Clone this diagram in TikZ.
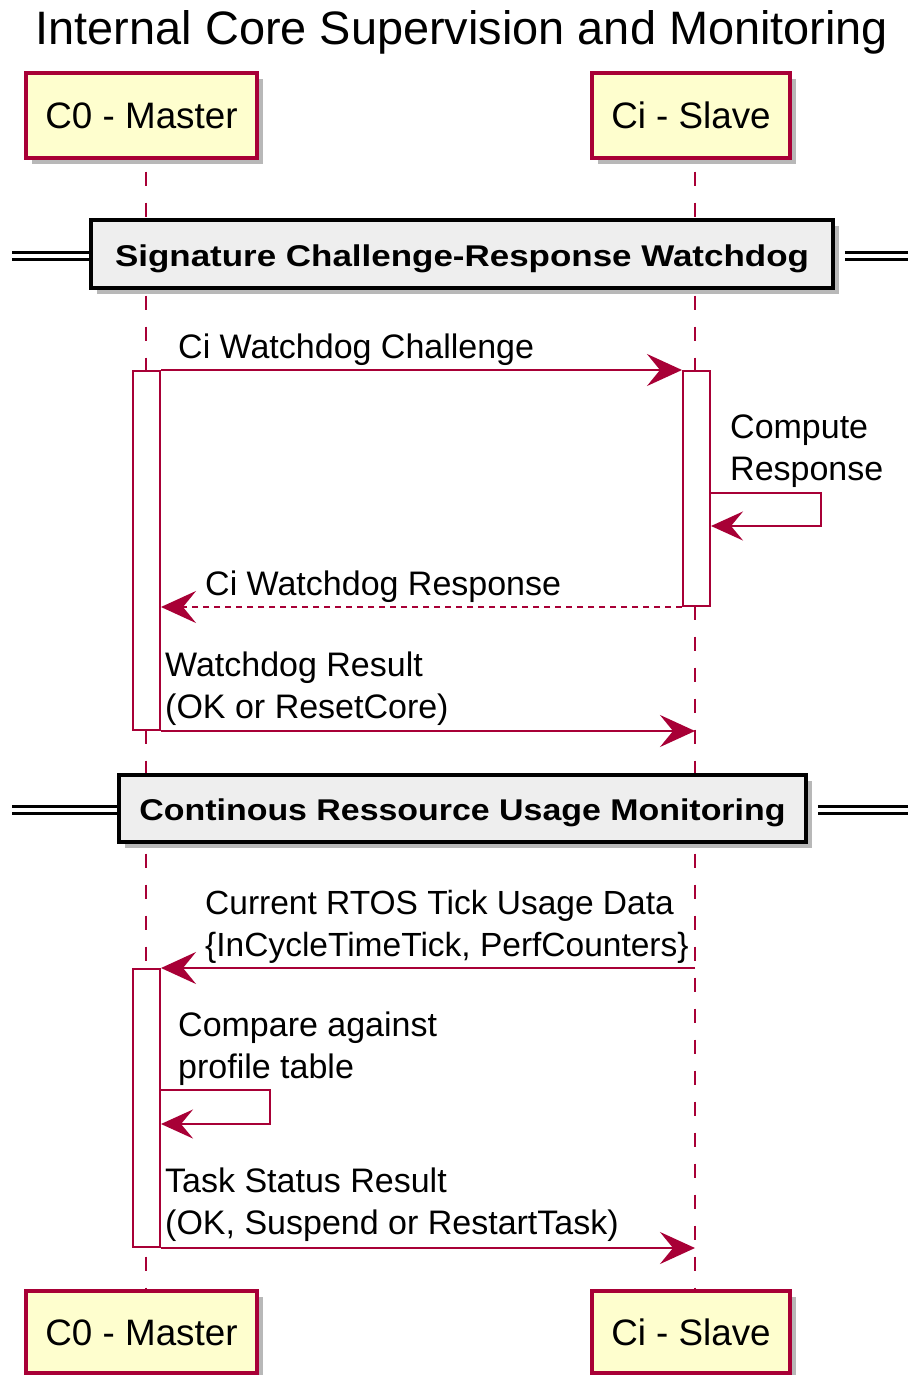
\documentclass[tikz,border=0pt]{standalone}
\usepackage{fontspec}
\usepackage{graphicx}
\setmainfont{Liberation Sans}
\usetikzlibrary{arrows.meta,calc,shadows}
\definecolor{umlred}{HTML}{A80036}
\definecolor{umlfill}{HTML}{FEFECE}
\definecolor{divfill}{HTML}{EEEEEE}
\newcommand\twoline[2]{\vtop{\hbox{#1}\hbox{#2}}}
\newcommand\divtext[2]{\scalebox{#1}[1]{#2}}

\begin{document}
\begin{tikzpicture}[x=1pt,y=-1pt,
  boxshadow/.style={drop shadow={shadow xshift=6pt,shadow yshift=-6pt,fill=black!55,opacity=0.5}},
  participant/.style={draw=umlred,fill=umlfill,line width=3.2pt,inner sep=0pt,
    minimum height=85pt,text height=26.4pt,text depth=0pt,boxshadow,
    font=\fontsize{36.8}{44}\selectfont},
  lifeline/.style={draw=umlred,line width=2pt,dash pattern=on 14pt off 17pt,dash phase=19pt},
  divider/.style={draw=black,fill=divfill,line width=3.8pt,inner sep=0pt,
    text height=24pt,text depth=0pt,boxshadow,
    font=\fontsize{30}{36}\selectfont\bfseries},
  divline/.style={draw=black,line width=3pt,double=white,double distance=4.5pt},
  activation/.style={draw=umlred,fill=white,line width=2pt,minimum width=27pt,inner sep=0pt},
  msg/.style={draw=umlred,line width=2.2pt,-{Stealth[length=35pt,width=32pt,inset=13pt]}},
  selfmsg/.style={draw=umlred,line width=2.2pt,-{Stealth[length=32pt,width=29pt,inset=12pt]}},
  reply/.style={msg,dash pattern=on 6pt off 5pt},
  label/.style={anchor=base west,inner sep=0pt,font=\fontsize{34}{42}\selectfont},
  narrowlabel/.style={label,font=\fontsize{33.5}{42}\selectfont},
]
\useasboundingbox (0,0) rectangle (908,1375);
\fill[white] (0,0) rectangle (908,1375);

% title
\node[anchor=base,inner sep=0pt,font=\fontsize{46.9}{56}\selectfont] (title) at (462,45)
  {Internal Core Supervision and Monitoring};

% lifeline positions
\coordinate (l0) at (146,0);
\coordinate (l1) at (695,0);

% participants
\node[participant,minimum width=231pt] (mtop) at (141.5,115.5) {C0 - Master};
\node[participant,minimum width=198pt] (stop) at (691,115.5) {Ci - Slave};
\node[participant,minimum width=231pt,minimum height=82pt] (mbot) at (141.5,1332) {C0 - Master};
\node[participant,minimum width=198pt,minimum height=82pt] (sbot) at (691,1332) {Ci - Slave};

% lifelines
\draw[lifeline] (mtop.south -| l0) -- (mbot.north -| l0);
\draw[lifeline] (stop.south -| l1) -- (sbot.north -| l1);

% section dividers
\coordinate (d1l) at (12,255.8);
\coordinate (d1r) at (908,255.8);
\coordinate (d2l) at (12,810);
\coordinate (d2r) at (908,810);
\path (462,254) node[divider,minimum width=742pt,minimum height=68pt] (div1)
  {\divtext{1.165}{Signature Challenge-Response Watchdog}};
\path (462.5,808.5) node[divider,minimum width=687pt,minimum height=67pt] (div2)
  {\divtext{1.13}{Continous Ressource Usage Monitoring}};
\draw[divline] (d1l) -- (d1l -| div1.west);
\draw[divline] ($(d1r -| div1.east)+(10pt,0pt)$) -- (d1r);
\draw[divline] (d2l) -- (d2l -| div2.west);
\draw[divline] ($(d2r -| div2.east)+(10pt,0pt)$) -- (d2r);

% activations
\node[activation,minimum height=359pt] (a1) at (146.5,550.5) {};
\node[activation,minimum height=235pt] (aS) at (696.5,488.5) {};
\node[activation,minimum height=278pt] (a2) at (146.5,1108) {};

% watchdog exchange
\draw[msg] (a1.north east) -- (aS.north west);
\node[label] (m1) at (178,358) {Ci Watchdog Challenge};

\draw[selfmsg] ($(aS.north east)+(0,123)$) -- ++(110,0) -- ++(0,33) -- ++(-110,0);
\node[label] (m2) at (730,438) {\twoline{Compute}{Response}};

\draw[reply] (aS.south west) -- (a1.east |- aS.south);
\node[label] (m3) at (205,595) {Ci Watchdog Response};

\draw[msg] (a1.south east) -- (a1.south -| l1);
\node[label] (m4) at (165,676) {\twoline{Watchdog Result}{(OK or ResetCore)}};

% resource monitoring
\draw[msg] (a2.north -| l1) -- (a2.north east);
\node[narrowlabel] (m5) at (205,914) {\twoline{Current RTOS Tick Usage Data}{\{InCycleTimeTick, PerfCounters\}}};

\draw[selfmsg] ($(a2.north east)+(0,122)$) -- ++(109,0) -- ++(0,34) -- ++(-109,0);
\node[label] (m6) at (178,1036) {\twoline{Compare against}{profile table}};

\draw[msg] (a2.south east) -- (a2.south -| l1);
\node[label] (m7) at (165,1192) {\twoline{Task Status Result}{(OK, Suspend or RestartTask)}};
\end{tikzpicture}
\end{document}
